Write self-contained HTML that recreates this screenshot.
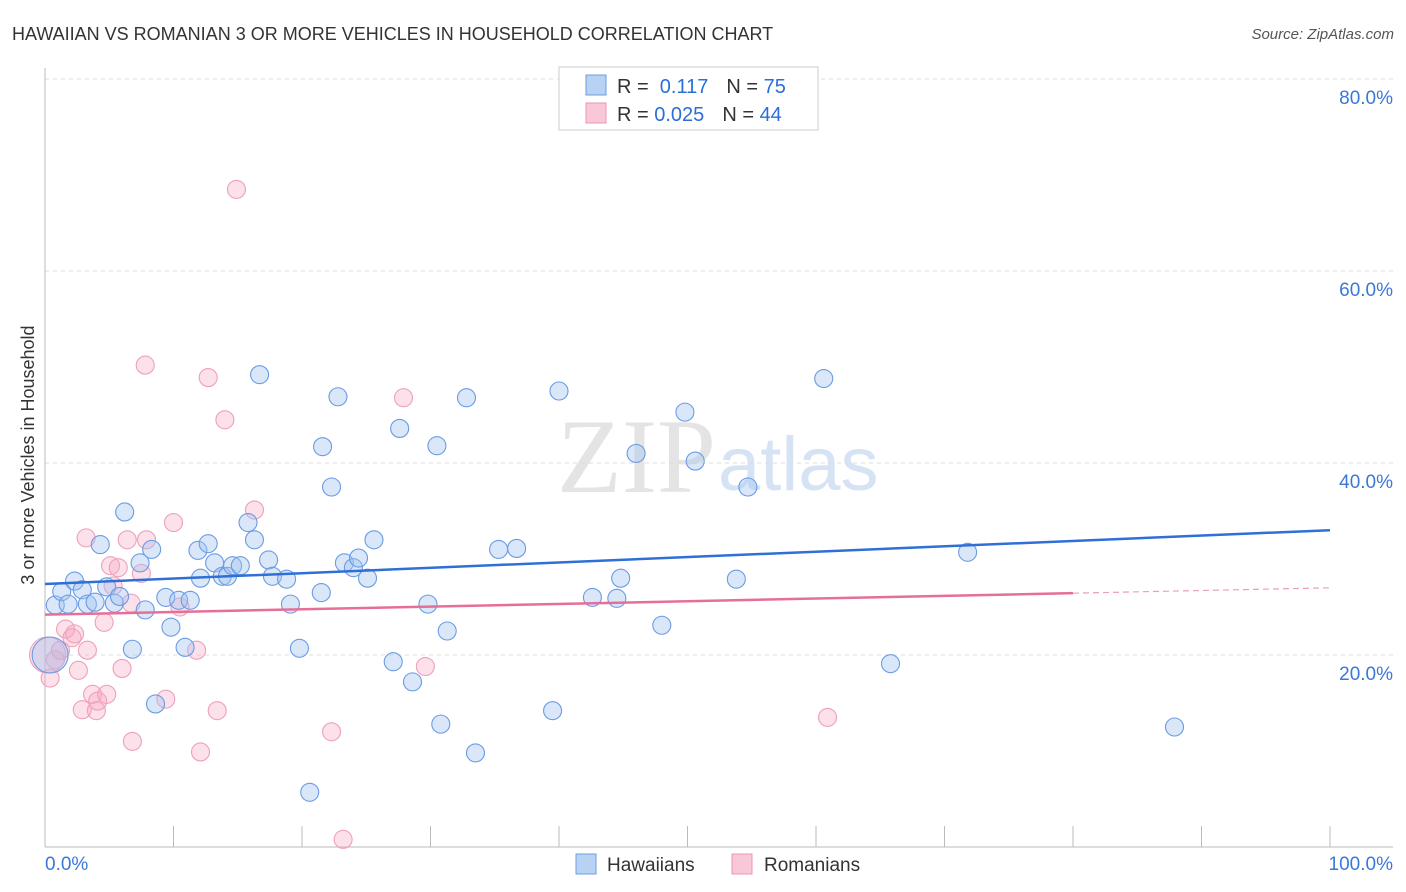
<!DOCTYPE html>
<html><head><meta charset="utf-8"><style>
body{margin:0;background:#fff;font-family:"Liberation Sans",sans-serif;}
svg{display:block}
</style></head><body>
<svg id="chart" width="1406" height="892">
<text x="12" y="40" font-size="18" fill="#333">HAWAIIAN VS ROMANIAN 3 OR MORE VEHICLES IN HOUSEHOLD CORRELATION CHART</text>
<text x="1394" y="39" font-size="15" fill="#555" text-anchor="end" font-style="italic">Source: ZipAtlas.com</text>
<text x="716" y="492" font-size="106" fill="#e4e4e4" text-anchor="end" font-family="Liberation Serif,serif">ZIP</text>
<text x="718" y="490" font-size="76" fill="#d6e3f5">atlas</text>
<g id="grid"></g>
<g id="marks"></g>
<text transform="translate(34,455) rotate(-90)" font-size="18" fill="#333" text-anchor="middle">3 or more Vehicles in Household</text>
<g>
<rect x="559" y="67" width="259" height="63" fill="#fff" stroke="#ccc"/>
<rect x="586" y="75" width="20" height="20" fill="#b8d2f4" stroke="#6d9de0"/>
<rect x="586" y="103" width="20" height="20" fill="#f9c8d8" stroke="#eb94b3"/>
<text x="617" y="93" font-size="20" fill="#333">R = <tspan fill="#2a6fd8">&#160;0.117</tspan><tspan dx="18">N = </tspan><tspan fill="#2a6fd8">75</tspan></text>
<text x="617" y="121" font-size="20" fill="#333">R = <tspan fill="#2a6fd8">0.025</tspan><tspan dx="18">N = </tspan><tspan fill="#2a6fd8">44</tspan></text>
</g>
<g>
<rect x="576" y="854" width="20" height="20" fill="#b8d2f4" stroke="#6d9de0"/>
<text x="607" y="871" font-size="19" fill="#333">Hawaiians</text>
<rect x="732" y="854" width="20" height="20" fill="#f9c8d8" stroke="#eb94b3"/>
<text x="764" y="871" font-size="19" fill="#333">Romanians</text>
</g>
</svg>
<script>
const yTicks=[20,40,60,80];
const xTickLabels=["0.0%","100.0%"];
const blueX=[0.8,1.3,1.8,2.3,2.9,3.3,3.9,4.3,4.8,5.4,5.8,6.2,6.8,7.4,7.8,8.3,8.6,9.4,9.8,10.4,10.9,11.3,11.9,12.1,12.7,13.2,13.8,14.2,14.6,15.2,15.8,16.3,16.7,17.4,17.7,18.8,19.1,19.8,20.6,21.5,21.6,22.3,22.8,23.3,24.0,24.4,25.1,25.6,27.1,27.6,28.6,29.8,30.5,30.8,31.3,32.8,33.5,35.3,36.7,39.5,40.0,42.6,44.5,44.8,46.0,48.0,49.8,50.6,53.8,54.7,60.6,65.8,71.8,87.9];
const blueY=[25.2,26.6,25.3,27.7,26.8,25.3,25.5,31.5,27.1,25.4,26.1,34.9,20.6,29.6,24.7,31.0,14.9,26.0,22.9,25.7,20.8,25.7,30.9,28.0,31.6,29.6,28.2,28.2,29.3,29.3,33.8,32.0,49.2,29.9,28.2,27.9,25.3,20.7,5.7,26.5,41.7,37.5,46.9,29.6,29.1,30.1,28.0,32.0,19.3,43.6,17.2,25.3,41.8,12.8,22.5,46.8,9.8,31.0,31.1,14.2,47.5,26.0,25.9,28.0,41.0,23.1,45.3,40.2,27.9,37.5,48.8,19.1,30.7,12.5];
const pinkX=[0.4,0.8,1.2,1.6,2.1,2.3,2.6,2.9,3.2,3.3,3.7,4.0,4.1,4.6,4.8,5.1,5.3,5.7,6.0,6.4,6.7,6.8,7.5,7.8,7.9,9.4,10.0,10.5,11.8,12.1,12.7,13.4,14.0,14.9,16.3,22.3,23.2,27.9,29.6,60.9];
const pinkY=[17.6,19.5,20.5,22.7,21.8,22.2,18.4,14.3,32.2,20.5,15.9,14.2,15.2,23.4,15.9,29.3,27.2,29.1,18.6,32.0,25.4,11.0,28.5,50.2,32.0,15.4,33.8,25.0,20.5,9.9,48.9,14.2,44.5,68.5,35.1,12.0,0.8,46.8,18.8,13.5];
const bigBlue=[0.4,20.0], bigPink=[0.2,20.0];
const blueTrend=[27.4,33.0], pinkTrend=[24.2,27.0];
const NS='http://www.w3.org/2000/svg';
const X=v=>45+v*12.85, Y=v=>847-v*9.6;
const grid=document.getElementById('grid'), marks=document.getElementById('marks');
function mk(tag,attrs,parent){const e=document.createElementNS(NS,tag);for(const k in attrs)e.setAttribute(k,attrs[k]);parent.appendChild(e);return e;}
yTicks.forEach(t=>{
 const l=mk('line',{x1:45,x2:1393,y1:Y(t),y2:Y(t),stroke:'#ddd','stroke-dasharray':'4,4'},grid);
 
 
 const tx=mk('text',{x:1393,y:Y(t)+25,'font-size':19,fill:'#3a78d8','text-anchor':'end'},grid);
 tx.textContent=t.toFixed(1)+'%';
 
 
});
const ax=mk('line',{x1:45,x2:45,y1:68,y2:847,stroke:'#bbb'},grid);


const bx=mk('line',{x1:45,x2:1393,y1:847,y2:847,stroke:'#bbb'},grid);


for(let i=0;i<=10;i++){
 const t=mk('line',{x1:X(i*10),x2:X(i*10),y1:826,y2:847,stroke:'#bbb'},grid);
 
 
}
[[0,'start',45],[1,'end',1393]].forEach(([i,a,x])=>{
 const t=mk('text',{x:x,y:870,'font-size':19,fill:'#3a78d8','text-anchor':a},grid);
 t.textContent=xTickLabels[i];
 
 
});
function dot(x,y,r,c,name){
 const e=mk('circle',{cx:X(x),cy:Y(y),r:r,fill:c[0],stroke:c[1],'stroke-width':1.1},marks);
 
 
}
const pc=['rgba(246,170,196,0.36)','#eea0bb'], bc=['rgba(160,194,240,0.40)','#6a9be4'];
dot(bigPink[0],bigPink[1],18,pc,'romanian-point');
pinkX.forEach((x,i)=>dot(x,pinkY[i],9,pc,'romanian-point'));
dot(bigBlue[0],bigBlue[1],18,bc,'hawaiian-point');
blueX.forEach((x,i)=>dot(x,blueY[i],9,bc,'hawaiian-point'));
const bl=mk('line',{x1:X(0),y1:Y(blueTrend[0]),x2:X(100),y2:Y(blueTrend[1]),stroke:'#2f6fd6','stroke-width':2.5},marks);


const pm=pinkTrend[0]+(pinkTrend[1]-pinkTrend[0])*0.8;
const pl=mk('line',{x1:X(0),y1:Y(pinkTrend[0]),x2:X(80),y2:Y(pm),stroke:'#e66f98','stroke-width':2.5},marks);


const pd=mk('line',{x1:X(80),y1:Y(pm),x2:X(100),y2:Y(pinkTrend[1]),stroke:'#e8a0b8','stroke-width':1.2,'stroke-dasharray':'6,4'},marks);


</script>
</body></html>
